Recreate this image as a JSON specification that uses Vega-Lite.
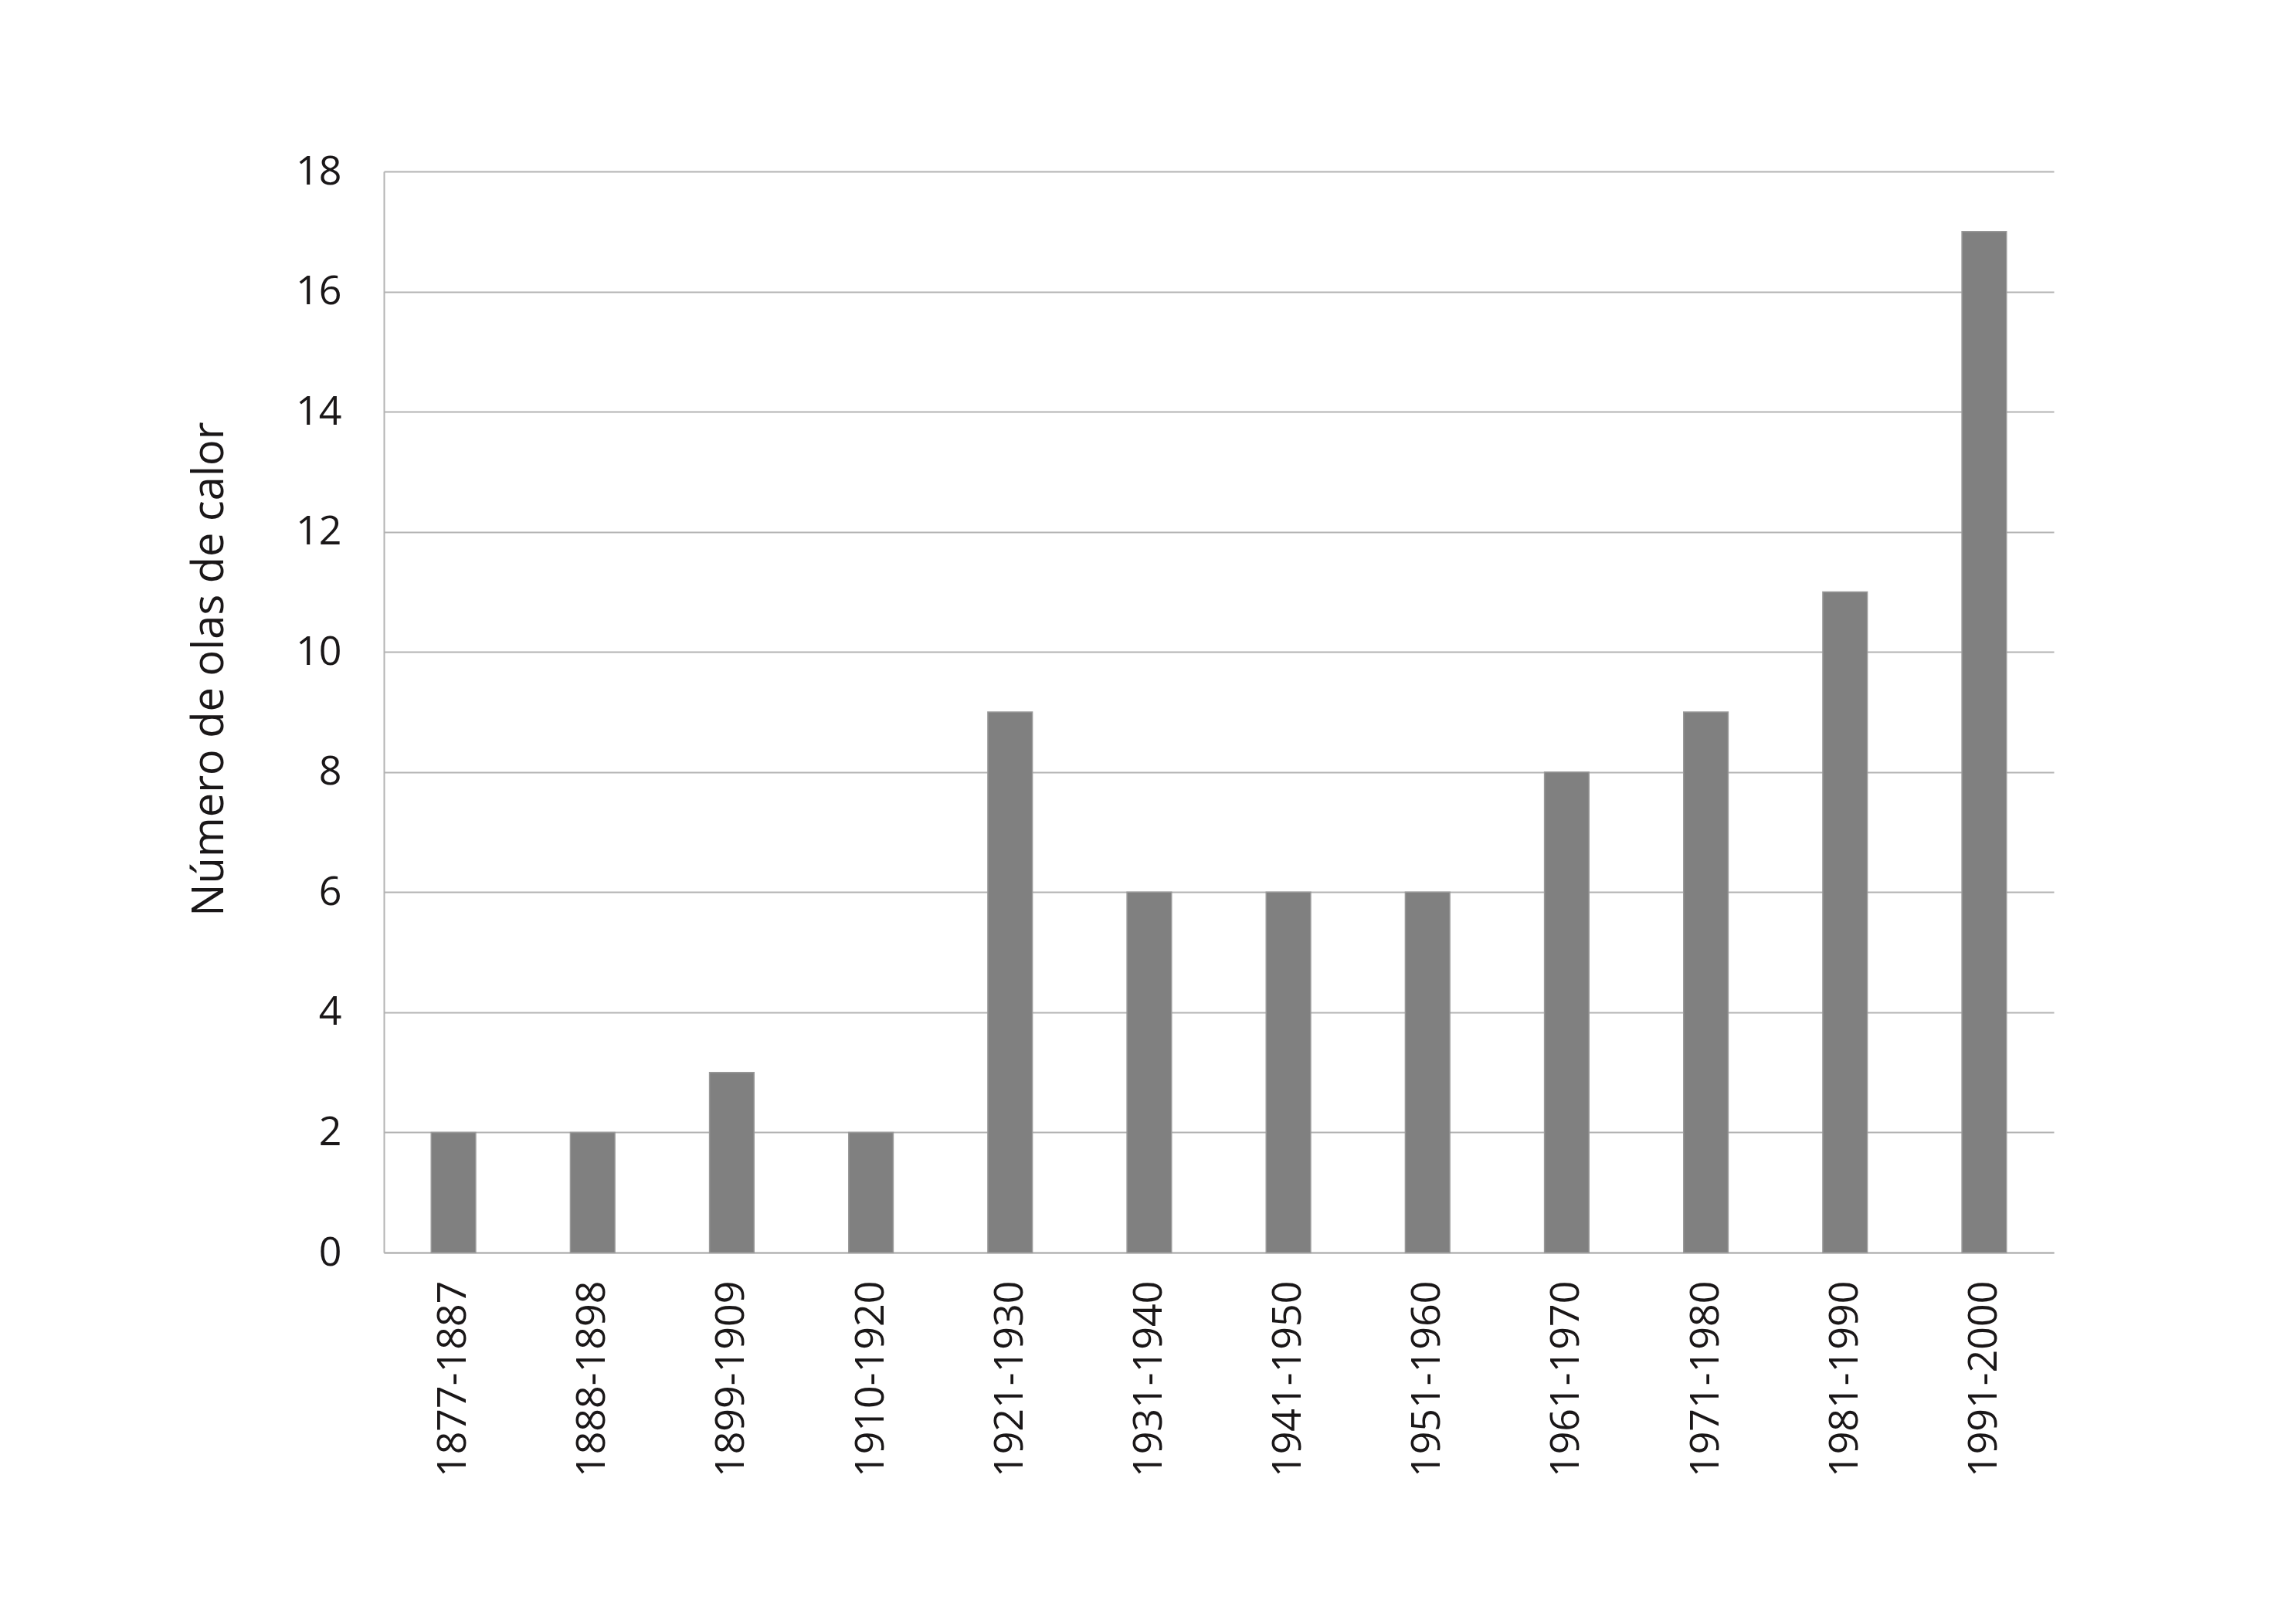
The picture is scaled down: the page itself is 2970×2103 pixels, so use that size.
{
  "$schema": "https://vega.github.io/schema/vega-lite/v6.json",
  "width": 2162,
  "height": 1400,
  "autosize": {"type": "none"},
  "padding": {"left": 497, "top": 222, "right": 311, "bottom": 481},
  "background": "white",
  "data": {
    "values": [
      {"periodo": "1877-1887", "olas": 2},
      {"periodo": "1888-1898", "olas": 2},
      {"periodo": "1899-1909", "olas": 3},
      {"periodo": "1910-1920", "olas": 2},
      {"periodo": "1921-1930", "olas": 9},
      {"periodo": "1931-1940", "olas": 6},
      {"periodo": "1941-1950", "olas": 6},
      {"periodo": "1951-1960", "olas": 6},
      {"periodo": "1961-1970", "olas": 8},
      {"periodo": "1971-1980", "olas": 9},
      {"periodo": "1981-1990", "olas": 11},
      {"periodo": "1991-2000", "olas": 17}
    ]
  },
  "config": {
    "view": {"stroke": null},
    "font": "Open Sans"
  },
  "mark": {"type": "bar", "color": "#808080", "stroke": "#999999", "strokeWidth": 1.5},
  "encoding": {
    "x": {
      "field": "periodo",
      "type": "nominal",
      "sort": null,
      "scale": {"paddingInner": 0.68, "paddingOuter": 0.34},
      "axis": {
        "title": null,
        "labelAngle": 270,
        "labelFontSize": 52,
        "labelLimit": 0,
        "labelColor": "#1a1718",
        "labelPadding": 36,
        "ticks": false,
        "domainColor": "#b3b3b3",
        "domainWidth": 2,
        "labelFont": "Open Sans"
      }
    },
    "y": {
      "field": "olas",
      "type": "quantitative",
      "scale": {"domain": [0, 18], "nice": false},
      "axis": {
        "title": "Número de olas de calor",
        "values": [0, 2, 4, 6, 8, 10, 12, 14, 16, 18],
        "labelFontSize": 52,
        "labelColor": "#1a1718",
        "labelPadding": 55,
        "ticks": false,
        "domainColor": "#b3b3b3",
        "domainWidth": 2,
        "gridColor": "#b3b3b3",
        "gridWidth": 2,
        "titleFontSize": 56,
        "titleFontWeight": "normal",
        "titleColor": "#1a1718",
        "titleAngle": 270,
        "titleX": -226,
        "titleY": 644,
        "titleAlign": "center",
        "titleBaseline": "middle",
        "labelFont": "Open Sans",
        "titleFont": "Open Sans"
      }
    }
  }
}
